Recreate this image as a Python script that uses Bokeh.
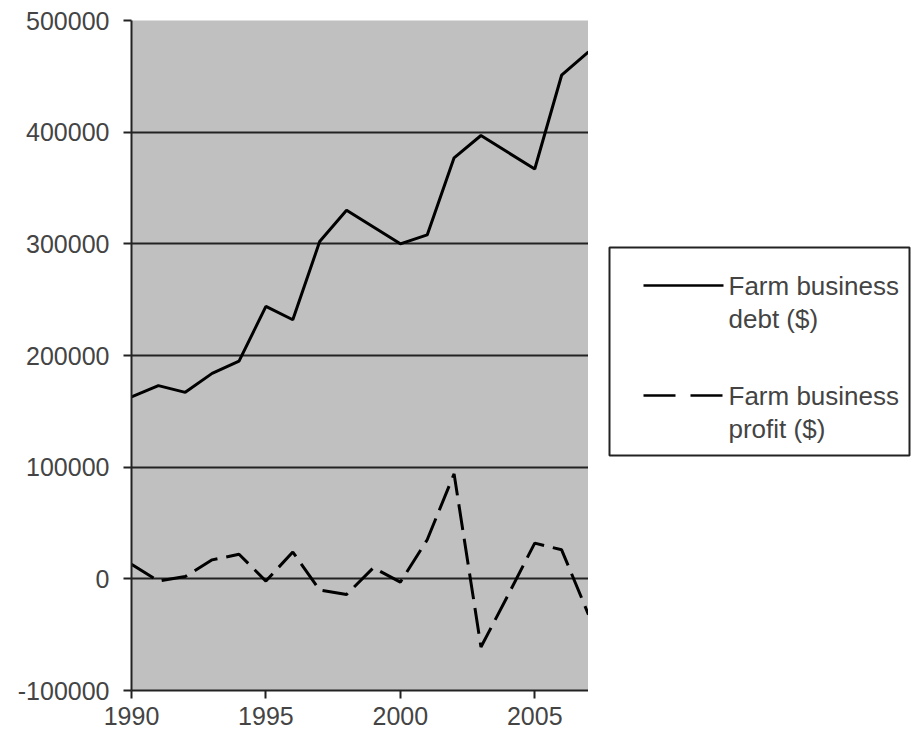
from bokeh.plotting import figure
from bokeh.layouts import row
from bokeh.models import FixedTicker, NumeralTickFormatter, Range1d
from bokeh.core.properties import value
from bokeh.embed import file_html
from bokeh.resources import INLINE

years = list(range(1990, 2008))
debt = [163000, 173000, 167000, 184000, 195000, 244000, 232000, 302000, 330000,
        315000, 300000, 308000, 377000, 397000, 382000, 367000, 451000, 472000]
profit = [13000, -2000, 2000, 17000, 22000, -2000, 24000, -10000, -14000,
          10000, -3000, 35000, 94000, -61000, -15000, 32000, 26000, -32000]
x_ticks = [1990, 1995, 2000, 2005]
y_ticks = [-100000, 0, 100000, 200000, 300000, 400000, 500000]
series_labels = ["Farm business\ndebt ($)", "Farm business\nprofit ($)"]
series_dashes = ["solid", "26 9"]

FONT = "Liberation Sans"
TXT = "#444444"
DARK = "#222222"
H = 732
TOP, BOTTOM = 20, 42

p = figure(width=588, height=H,
           x_range=Range1d(1990, 2007), y_range=Range1d(-100000, 500000),
           output_backend="svg", toolbar_location=None,
           min_border_left=131, min_border_right=0,
           min_border_top=TOP, min_border_bottom=BOTTOM)

p.background_fill_color = "#c0c0c0"
p.border_fill_color = "white"
p.outline_line_color = None

p.xgrid.grid_line_color = None
p.ygrid.grid_line_color = DARK
p.ygrid.grid_line_width = 2
p.yaxis.ticker = FixedTicker(ticks=y_ticks)
p.xaxis.ticker = FixedTicker(ticks=x_ticks)
p.yaxis.formatter = NumeralTickFormatter(format="0")
p.xaxis.formatter = NumeralTickFormatter(format="0")

for ax in (p.xaxis, p.yaxis):
    ax.axis_line_color = DARK
    ax.axis_line_width = 2
    ax.major_tick_line_color = DARK
    ax.major_tick_line_width = 2
    ax.major_tick_out = 8
    ax.major_tick_in = 0
    ax.minor_tick_line_color = None
    ax.major_label_text_font = FONT
    ax.major_label_text_font_size = "25px"
    ax.major_label_text_color = TXT
p.yaxis.major_label_standoff = 14
p.xaxis.major_label_standoff = 8

p.line(years, debt, line_color="black", line_width=3, line_dash=series_dashes[0])
p.line(years, profit, line_color="black", line_width=3, line_dash=series_dashes[1])

# legend panel: side figure whose frame is aligned with the main frame;
# its ranges are set so that units are screen pixels of the page
frame_bottom = H - BOTTOM
leg = figure(width=324, height=H, x_range=Range1d(0, 324),
             y_range=Range1d(frame_bottom, TOP),
             output_backend="svg", toolbar_location=None,
             x_axis_location=None, y_axis_location=None,
             min_border_left=0, min_border_right=0,
             min_border_top=TOP, min_border_bottom=BOTTOM)
leg.grid.visible = False
leg.outline_line_color = None
leg.background_fill_color = "white"
leg.border_fill_color = "white"

leg.quad(left=21, right=321, top=247, bottom=455,
         fill_color="white", line_color=DARK, line_width=2)
item_y = [285, 395]
for i, (lab, dash) in enumerate(zip(series_labels, series_dashes)):
    y = item_y[i]
    leg.line([55, 135], [y, y], line_color="black", line_width=2.5,
             line_dash="32 15" if dash != "solid" else "solid")
    leg.text(x=[140], y=[y - 15], text=[lab], text_font=value(FONT),
             text_font_size="26px", text_color=TXT, text_baseline="top",
             text_align="left", text_line_height=1.1)

open("out.html", "w").write(file_html(row(p, leg), INLINE))
